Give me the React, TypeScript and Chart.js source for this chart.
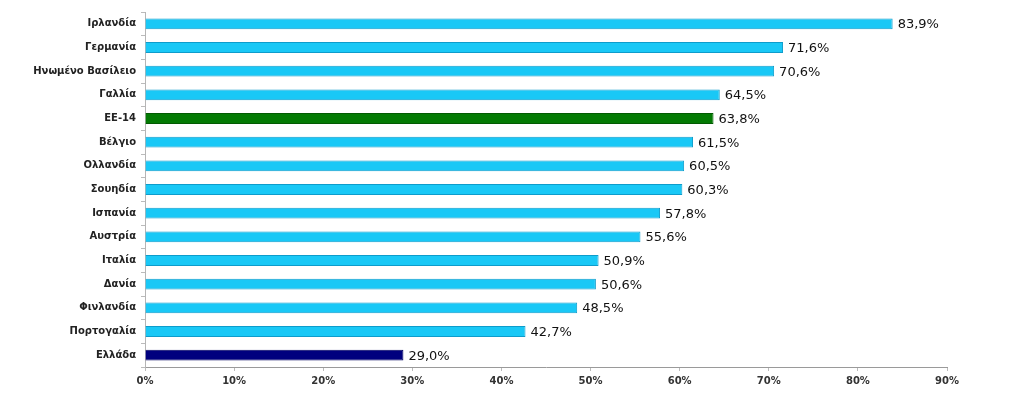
import React, { useEffect, useRef } from "react";
import { Chart, registerables } from "chart.js";

Chart.register(...registerables);

const categories = [
  "Ιρλανδία",
  "Γερμανία",
  "Ηνωμένο Βασίλειο",
  "Γαλλία",
  "ΕΕ-14",
  "Βέλγιο",
  "Ολλανδία",
  "Σουηδία",
  "Ισπανία",
  "Αυστρία",
  "Ιταλία",
  "Δανία",
  "Φινλανδία",
  "Πορτογαλία",
  "Ελλάδα",
];

const values = [83.9, 71.6, 70.6, 64.5, 63.8, 61.5, 60.5, 60.3, 57.8, 55.6, 50.9, 50.6, 48.5, 42.7, 29.0];

const xTicks = [0, 10, 20, 30, 40, 50, 60, 70, 80, 90];

const LIGHT = "#19C8F6";
const LIGHT_BORDER = "#0E9CCB";
const GREEN = "#037A03";
const GREEN_BORDER = "#025A02";
const NAVY = "#00007E";
const NAVY_BORDER = "#000060";

const fmt = (v: number) => v.toFixed(1).replace(".", ",") + "%";

const valueLabels = {
  id: "valueLabels",
  afterDatasetsDraw(chart: any) {
    const ctx = chart.ctx;
    const meta = chart.getDatasetMeta(0);
    ctx.save();
    ctx.font = "13px 'DejaVu Sans', sans-serif";
    ctx.fillStyle = "#111";
    ctx.textAlign = "left";
    ctx.textBaseline = "middle";
    meta.data.forEach((bar: any, i: number) => {
      ctx.fillText(fmt(values[i]), bar.x + 5, bar.y + 1);
    });
    ctx.restore();
  },
};

export default function App() {
  const ref = useRef<HTMLCanvasElement | null>(null);
  useEffect(() => {
    document.body.style.margin = "0";
    const colors = categories.map((c) => (c === "ΕΕ-14" ? GREEN : c === "Ελλάδα" ? NAVY : LIGHT));
    const borders = categories.map((c) => (c === "ΕΕ-14" ? GREEN_BORDER : c === "Ελλάδα" ? NAVY_BORDER : LIGHT_BORDER));
    const chart = new Chart(ref.current as HTMLCanvasElement, {
      type: "bar",
      data: {
        labels: categories,
        datasets: [
          {
            data: values,
            backgroundColor: colors,
            borderColor: borders,
            borderWidth: 1,
            barPercentage: 1,
            categoryPercentage: 0.46,
          },
        ],
      },
      plugins: [valueLabels],
      options: {
        indexAxis: "y",
        animation: false,
        responsive: false,
        layout: { padding: { top: 12, right: 77, left: 0, bottom: 0 } },
        plugins: { legend: { display: false }, tooltip: { enabled: false } },
        scales: {
          x: {
            min: 0,
            max: 90,
            afterFit: (s: any) => {
              s.height = 29;
            },
            afterBuildTicks: (s: any) => {
              s.ticks = xTicks.map((v) => ({ value: v }));
            },
            border: { color: "#9a9a9a", width: 1 },
            grid: { drawOnChartArea: false, tickLength: 4, color: "#bbbbbb" },
            ticks: {
              callback: (v: any) => v + "%",
              color: "#333",
              font: { family: "'DejaVu Sans', sans-serif", size: 10, weight: "bold" },
              padding: 4,
              maxRotation: 0,
            },
          },
          y: {
            afterFit: (s: any) => {
              s.width = 145;
            },
            border: { color: "#b5b5b5", width: 1 },
            grid: { drawOnChartArea: false, tickLength: 4, color: "#bbbbbb", offset: true },
            ticks: {
              color: "#222",
              font: { family: "'DejaVu Sans', sans-serif", size: 10, weight: "bold" },
              padding: 5,
              autoSkip: false,
            },
          },
        },
      },
    });
    return () => chart.destroy();
  }, []);
  return (
    <div style={{ width: 1024, height: 396, background: "#fff" }}>
      <canvas ref={ref} width={1024} height={396} style={{ display: "block" }} />
    </div>
  );
}
